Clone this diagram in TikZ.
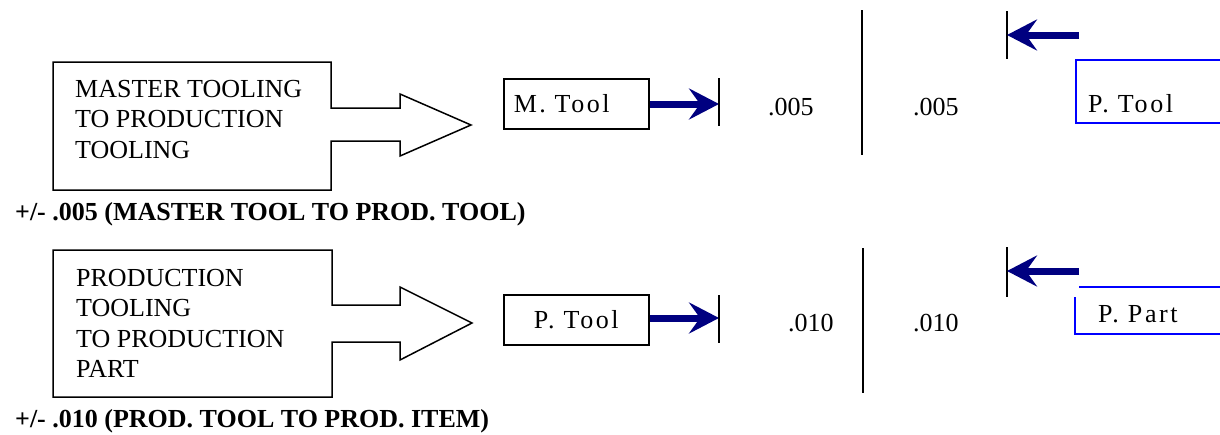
\documentclass[tikz,border=0pt]{standalone}
\usepackage{fontspec}
\setmainfont{Liberation Serif}
\usetikzlibrary{arrows.meta}
\definecolor{navyarrow}{RGB}{0,0,128}
\definecolor{boxblue}{RGB}{0,0,255}
\begin{document}
\begin{tikzpicture}[x=1pt,y=-1pt,
  font=\fontsize{26}{30.5}\selectfont,
  blockarrow/.style={draw=black,line width=1.5pt,line join=miter},
  txt/.style={inner sep=0pt,anchor=base west},
  lines/.style={inner sep=0pt,anchor=north west,align=left},
  spaced/.style={font=\fontsize{26}{30}\selectfont\addfontfeature{LetterSpace=10}},
  toolbox/.style={draw=black,line width=1.5pt,minimum height=50pt,inner sep=0pt},
  openbox/.style={draw=boxblue,line width=2pt},
  navyarr/.style={draw=navyarrow,line width=7pt,-{Stealth[length=30pt,width=31pt,inset=11pt]}},
  tickline/.style={draw=black,line width=1.5pt},
  divider/.style={draw=black,line width=2.5pt},
  tolerance/.style={inner sep=0pt,anchor=base west,font=\fontsize{26}{30}\selectfont\bfseries}]
\useasboundingbox (0,0) rectangle (1220,434);

% ---------- Row 1 ----------
\draw[blockarrow] (53,62) -- (331,62) -- (331,108) -- (400,108) -- (400,94) -- (471,125)
  -- (400,156) -- (400,141) -- (331,141) -- (331,190) -- (53,190) -- cycle;
\node[lines] (src1) at (75,80) {MASTER TOOLING\\TO PRODUCTION\\TOOLING};

\node[toolbox,spaced,anchor=west,text width=125pt,inner xsep=10pt,align=left] (mtool) at (503,104) {M. Tool};
\coordinate (tickA) at (719,104);
\draw[navyarr] (mtool.east) -- (tickA);
\draw[tickline] (719,78) -- (719,126);
\node[txt] (valA) at (768,115) {.005};
\draw[divider] (862,10) -- (862,155);
\node[txt] (valB) at (913,115) {.005};
\draw[tickline] (1007,11) -- (1007,59);
\coordinate (tailB) at (1079,35);
\coordinate (tickB) at (1007,35);
\draw[navyarr] (tailB) -- (tickB);
\draw[openbox] (1221,60) -- (1076,60) -- (1076,123) -- (1221,123);
\node[txt,spaced] (ptoolA) at (1088,112) {P. Tool};

\node[tolerance] (tol1) at (15,220) {+/- .005 (MASTER TOOL TO PROD. TOOL)};

% ---------- Row 2 ----------
\draw[blockarrow] (53,250) -- (332,250) -- (332,305) -- (400,305) -- (400,287) -- (472,323)
  -- (400,360) -- (400,342) -- (332,342) -- (332,397) -- (53,397) -- cycle;
\node[lines] (src2) at (76,269) {PRODUCTION\\TOOLING\\TO PRODUCTION\\PART};

\node[toolbox,spaced,anchor=west,minimum width=145pt] (ptoolB) at (503,320) {P. Tool};
\coordinate (tickC) at (719,318);
\draw[navyarr] (ptoolB.east |- tickC) -- (tickC);
\draw[tickline] (719,295) -- (719,343);
\node[txt] (valC) at (788,331) {.010};
\draw[divider] (863,248) -- (863,393);
\node[txt] (valD) at (913,331) {.010};
\draw[tickline] (1007,247) -- (1007,297);
\coordinate (tailD) at (1079,271);
\coordinate (tickD) at (1007,271);
\draw[navyarr] (tailD) -- (tickD);
\draw[openbox] (1079,287) -- (1221,287);
\draw[openbox] (1075,297) -- (1075,334) -- (1221,334);
\node[txt,spaced] (ppart) at (1098,322) {P. Part};

\node[tolerance] (tol2) at (15,427) {+/- .010 (PROD. TOOL TO PROD. ITEM)};
\end{tikzpicture}
\end{document}
